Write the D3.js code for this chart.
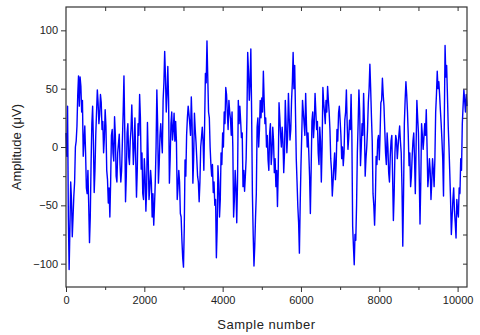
<!DOCTYPE html>
<html>
<head>
<meta charset="utf-8">
<script src="https://cdn.jsdelivr.net/npm/d3@7"></script>
<style>
  body { margin: 0; background: #fff; }
  svg { font-family: "Liberation Sans", Arial, sans-serif; }
</style>
</head>
<body>
<svg width="480" height="335"></svg>
<script>
const sampleStep = 20;
// amplitude (uV), one value per sampleStep
const amplitude = [
  12, -8, 35, -60, -105, -70, -30, -45, -77, -60, -42, -30, 0, 5, 18, 45, 61, 35, 60, 52,
  30, 40, -8, 5, 18, -5, -35, -40, -20, -50, -82, -60, -15, 20, 35, 5, -39, -20, 10, 30,
  49, 38, 20, 28, 45, 38, 15, 22, -5, 8, 32, 18, -20, -28, -48, -35, -60, -30, 10, 15,
  -5, -12, 26, 10, -25, -30, -5, 3, 11, -15, -30, -20, 5, 30, 61, 15, -47, -25, 12, 20,
  -8, -15, 5, 15, 36, 12, -15, 0, 25, -10, -43, -20, 20, 10, 45, 25, -19, -5, -40, -45,
  -10, -25, -55, -35, 21, -10, -45, -35, -20, -30, -60, -40, -67, -50, -30, 0, 49, 20, -31, -15,
  10, 20, 6, -5, 40, 55, 82, 60, 30, 45, 69, 40, -31, -10, 20, 30, 6, 15, 29, 5,
  22, 5, -45, -35, -20, -30, -57, -60, -80, -95, -103, -70, -11, -25, 10, 25, 35, 28, 20, 10,
  43, 20, -31, -10, 29, 15, 4, -10, -25, -30, -47, -30, 0, 8, 17, 5, -20, 20, 63, 55,
  91, 60, 30, 25, 0, -15, -25, -15, -39, -30, -50, -45, -95, -70, -16, -30, -60, -45, -5, -15,
  12, 0, 30, 20, 51, 45, 29, 15, 40, 30, 24, 10, 30, 0, -60, -45, -20, -35, -65, -30,
  40, 20, 35, 22, 8, 12, -34, -20, -38, -25, -10, 25, 81, 65, 40, 55, 84, 30, -40, -75,
  -102, -85, -60, -40, 17, 25, 0, 15, 40, 25, 42, 30, 65, 40, 20, 25, 0, 10, -11, -20,
  12, 20, -15, -5, 17, 5, -22, -10, -34, -20, -51, -20, 38, 25, 10, 0, 17, 5, -22, -5,
  40, 20, -5, 10, 46, 25, 6, 15, 40, 55, 81, 50, 70, 30, -10, -30, -51, -65, -91, -50,
  -16, 10, 40, 30, 20, 10, 46, 20, 0, 12, -5, -25, -57, -20, 22, 30, 8, 20, 46, 30,
  15, 22, -5, -15, 17, 5, -30, 0, 51, 38, 30, 20, 40, 30, 52, 40, 30, 15, -10, -20,
  -42, -30, -16, -5, -28, -15, 15, 5, 29, 35, 23, 10, -10, 0, -16, -5, 23, 30, 49, 20,
  -2, 8, 23, 15, 45, 10, -68, -85, -101, -75, -80, -50, -5, 20, 49, 30, -16, 0, 20, 10,
  46, 20, -25, -10, 0, 15, 38, 50, 71, 50, 26, 5, -40, -50, -67, -45, -8, -15, 6, 10,
  -11, 10, 38, 40, 59, 45, 35, 15, -5, -15, 12, 0, -22, -30, -8, 5, 10, -25, -63, -40,
  -5, 10, 6, -10, 0, 10, 18, 5, -5, -35, -85, -40, 20, 40, 56, 45, 30, 10, -16, -5,
  -34, -25, -8, 5, 12, -10, -40, 0, 40, 25, 12, -25, -66, -30, 20, 10, -2, 8, 20, 10,
  32, 0, -34, -25, -10, -20, -45, -30, -10, -20, -34, -10, 30, 45, 65, 50, 56, 45, 32, 20,
  6, -10, -42, 20, 87, 60, 70, 45, 18, 0, -22, -45, -75, -60, -45, -35, -55, -65, -78, -45,
  -55, -60, -35, -40, -10, -20, 20, 35, 49, 40, 30, 45, 35
];
const xTicks = [0, 2000, 4000, 6000, 8000, 10000];
const yTicks = [-100, -50, 0, 50, 100];

const data = amplitude.map((v, i) => ({ x: i * sampleStep, y: v }));

const svg = d3.select("svg");
const margin = { top: 7, right: 13, bottom: 48, left: 66 };
const width = 480 - margin.left - margin.right;
const height = 335 - margin.top - margin.bottom;
const g = svg.append("g").attr("transform", `translate(${margin.left},${margin.top})`);

const x = d3.scaleLinear().domain([0, 10240]).range([0, width]);
const y = d3.scaleLinear().domain([-120, 120]).range([height, 0]);

// signal
g.append("path")
  .datum(data)
  .attr("fill", "none")
  .attr("stroke", "#0000ff")
  .attr("stroke-width", 1.4)
  .attr("stroke-linejoin", "round")
  .attr("d", d3.line().x(d => x(d.x)).y(d => y(d.y)));

// minor ticks
const xMinor = d3.range(1000, 10240, 2000);
const yMinor = d3.range(-75, 120, 50);
const tickColor = "#333";

g.append("g").attr("transform", `translate(0,${height})`)
  .call(d3.axisBottom(x).tickValues(xTicks).tickSize(5).tickPadding(4).tickFormat(d3.format("d")));
g.append("g").attr("transform", `translate(0,${height})`)
  .call(d3.axisBottom(x).tickValues(xMinor).tickSize(3).tickFormat(""));
g.append("g")
  .call(d3.axisLeft(y).tickValues(yTicks).tickSize(5).tickPadding(3));
g.append("g").call(d3.axisLeft(y).tickValues(yMinor).tickSize(3).tickFormat(""));

// mirrored inward ticks on top and right
g.append("g").call(d3.axisTop(x).tickValues(d3.range(1000, 10240, 1000)).tickSize(-4).tickFormat(""));
g.append("g").attr("transform", `translate(${width},0)`)
  .call(d3.axisRight(y).tickValues(d3.range(-100, 120, 25)).tickSize(-4).tickFormat(""));

g.selectAll(".domain").remove();
g.selectAll(".tick line").attr("stroke", tickColor).attr("stroke-width", 1);
g.selectAll(".tick text").attr("fill", "#222").style("font-size", "11px");

// frame
g.append("rect")
  .attr("width", width).attr("height", height)
  .attr("fill", "none").attr("stroke", tickColor).attr("stroke-width", 1.2);

svg.append("text")
  .attr("x", margin.left + width / 2).attr("y", 329)
  .attr("text-anchor", "middle").attr("fill", "#222")
  .style("font-size", "13px").style("letter-spacing", "0.5px")
  .text("Sample number");

svg.append("text")
  .attr("transform", `translate(21,${margin.top + height / 2}) rotate(-90)`)
  .attr("text-anchor", "middle").attr("fill", "#222")
  .style("font-size", "13px")
  .text("Amplitude (μV)");
</script>
</body>
</html>
